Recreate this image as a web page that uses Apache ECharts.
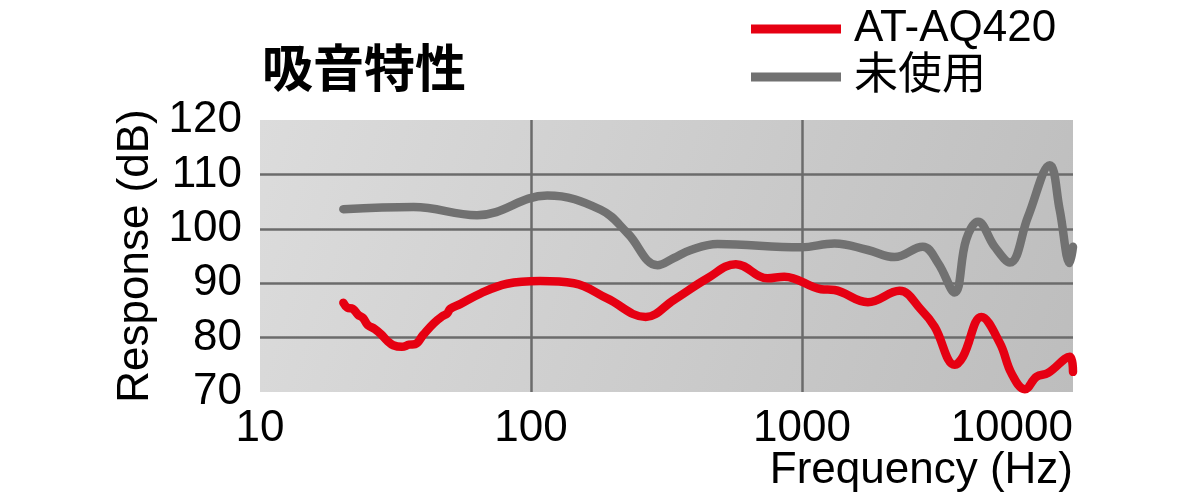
<!DOCTYPE html>
<html>
<head>
<meta charset="utf-8">
<script src="https://cdn.jsdelivr.net/npm/echarts@6/dist/echarts.min.js"></script>
<style>
  html, body { margin: 0; padding: 0; background: #fff; }
  #chart { width: 1200px; height: 504px; }
</style>
</head>
<body>
<div id="chart"></div>
<script>
// 吸音特性: AT-AQ420 vs 未使用 (周波数応答)
var seriesNames = ['AT-AQ420', '未使用'];

// AT-AQ420 (赤)
var freqRed = [20.3, 21, 22, 23, 24, 25, 26.5, 28, 29.5, 31, 33.4, 35.5, 37.4, 40, 43.7, 47, 49, 50.4, 55, 65, 81.6, 108, 144, 191, 265, 336, 448, 570, 746, 860, 1176, 1318, 1750, 2290, 2754, 3086, 3659, 3928, 4593, 5370, 5932, 6640, 7335, 8095, 9730, 10000];
var valRed  = [86.4, 85.5, 85.3, 84.2, 83.6, 82.3, 81.6, 80.6, 79.4, 78.6, 78.3, 78.7, 78.8, 80.5, 82.6, 83.9, 84.4, 85.3, 86.2, 88.1, 89.9, 90.4, 90.0, 87.2, 83.8, 86.9, 90.9, 93.5, 90.9, 91.2, 88.9, 88.75, 86.5, 88.6, 85.1, 82.0, 75.0, 76.5, 83.8, 79.0, 73.4, 70.5, 72.8, 73.5, 76.5, 73.7];

// 未使用 (灰)
var freqGray = [20.3, 36.9, 63.2, 114.8, 180.8, 227, 293, 336, 389, 488, 991, 1318, 1750, 2194, 2792, 3178, 3659, 4035, 4460, 5140, 5850, 6820, 8210, 8930, 9730, 10000];
var valGray  = [103.6, 104.0, 102.5, 106.1, 103.5, 99.2, 93.3, 94.6, 96.1, 97.2, 96.6, 97.3, 96.1, 94.8, 96.7, 93.7, 88.3, 98.0, 101.3, 96.7, 93.8, 102.2, 111.7, 103.5, 93.7, 96.7];

var xTicks = [10, 100, 1000, 10000];
var yTicks = [70, 80, 90, 100, 110, 120];

function zip(xs, ys) {
    return xs.map(function (x, i) { return [x, ys[i]]; });
}

var latin = "'Liberation Sans', 'Noto Sans CJK JP', sans-serif";
var gridColor = '#6b6b6b';

var chart = echarts.init(document.getElementById('chart'), null, { renderer: 'canvas' });
chart.setOption({
    animation: false,
    title: [
        {
            text: '吸音特性',
            left: 257,
            top: 37,
            textStyle: {
                fontFamily: "'Noto Sans CJK JP', sans-serif",
                fontSize: 51,
                fontWeight: 'bold',
                color: '#000'
            }
        },
        {
            // x軸名 (右寄せ)
            text: 'Frequency (Hz)',
            right: 127,
            top: 449,
            padding: 0,
            textStyle: {
                fontFamily: latin,
                fontSize: 44,
                fontWeight: 'normal',
                color: '#000'
            }
        }
    ],
    legend: {
        orient: 'vertical',
        left: 746,
        top: 1,
        itemWidth: 90,
        itemHeight: 9,
        itemGap: 2,
        icon: 'rect',
        textStyle: {
            fontFamily: latin,
            fontSize: 44,
            lineHeight: 46,
            color: '#000',
            padding: [0, 0, 0, 8]
        },
        data: seriesNames
    },
    grid: {
        left: 260,
        right: 127,
        top: 120,
        bottom: 112,
        outerBoundsMode: 'none',
        containLabel: false,
        show: true,
        borderWidth: 0,
        backgroundColor: new echarts.graphic.LinearGradient(0, 0, 1, 1, [
            { offset: 0, color: '#dcdcdc' },
            { offset: 1, color: '#bdbdbd' }
        ])
    },
    xAxis: {
        type: 'log',
        logBase: 10,
        min: xTicks[0],
        max: xTicks[xTicks.length - 1],
        axisLine: { show: false },
        axisTick: { show: false },
        axisLabel: {
            fontFamily: latin,
            fontSize: 44,
            color: '#000',
            margin: 15,
            alignMaxLabel: 'right',
            formatter: function (v) { return String(Math.round(v)); }
        },
        splitLine: {
            show: true,
            showMinLine: false,
            showMaxLine: false,
            lineStyle: { color: gridColor, width: 2.5 }
        }
    },
    yAxis: {
        type: 'value',
        min: yTicks[0],
        max: yTicks[yTicks.length - 1],
        interval: 10,
        name: 'Response (dB)',
        nameLocation: 'middle',
        nameRotate: 90,
        nameGap: 100,
        nameTextStyle: {
            fontFamily: latin,
            fontSize: 44,
            color: '#000'
        },
        axisLine: { show: false },
        axisTick: { show: false },
        axisLabel: {
            fontFamily: latin,
            fontSize: 44,
            color: '#000',
            margin: 18
        },
        splitLine: {
            show: true,
            showMinLine: false,
            showMaxLine: false,
            lineStyle: { color: gridColor, width: 2.5 }
        }
    },
    series: [
        {
            name: seriesNames[1],
            type: 'line',
            smooth: 0.4,
            showSymbol: false,
            symbol: 'none',
            color: '#717171',
            lineStyle: { width: 8.5, color: '#717171', cap: 'round', join: 'round' },
            data: zip(freqGray, valGray)
        },
        {
            name: seriesNames[0],
            type: 'line',
            smooth: 0.4,
            showSymbol: false,
            symbol: 'none',
            color: '#e60012',
            lineStyle: { width: 8.5, color: '#e60012', cap: 'round', join: 'round' },
            data: zip(freqRed, valRed)
        }
    ]
});
</script>
</body>
</html>
